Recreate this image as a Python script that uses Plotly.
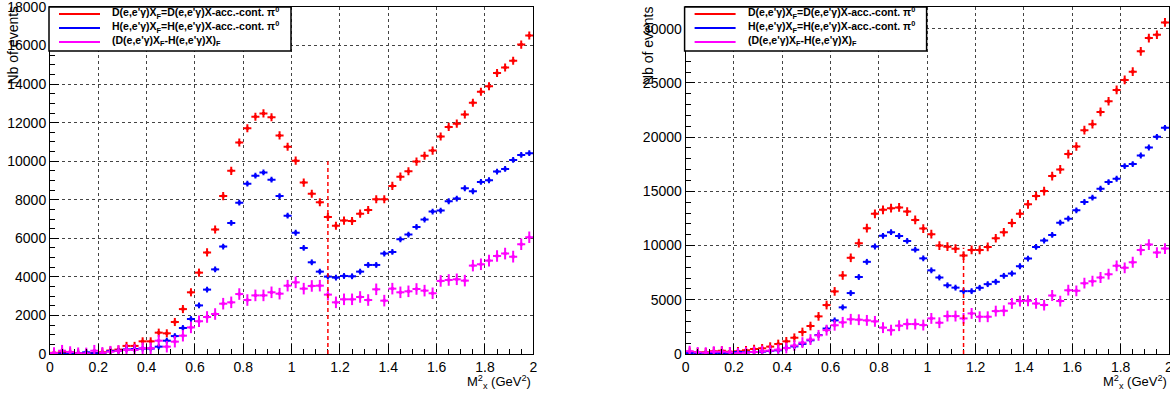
import numpy as np
import plotly.graph_objects as go

# ---------------- data ----------------
bin_edges = np.linspace(0.0, 2.0, 61)          # M_x^2 bins (GeV^2)
bin_centers = 0.5 * (bin_edges[:-1] + bin_edges[1:])
half_width = 0.5 * (bin_edges[1] - bin_edges[0])

left_D = [60, 100, 90, 40, 30, 50, 90, 180, 230, 420,
          420, 657, 657, 1107, 1072, 1660, 2330, 3200, 4220, 5270,
          6460, 8190, 9500, 10970, 11710, 12310, 12480, 12280, 11340, 10750,
          10030, 8890, 8310, 7870, 7110, 6650, 6920, 6900, 7280, 7470,
          8030, 8030, 8720, 9200, 9480, 9980, 10280, 10550, 11280, 11780,
          11950, 12420, 13030, 13600, 13890, 14580, 14860, 15210, 16050, 16520]
left_H = [10, 20, 30, 30, 90, 40, 30, 150, 170, 240,
          260, 280, 280, 380, 690, 930, 1350, 1815, 2520, 3340,
          4390, 5570, 6800, 7850, 8835, 9250, 9420, 9040, 8195, 7175,
          6290, 5500, 4757, 4273, 4014, 3962, 4048, 4031, 4273, 4619,
          4619, 5207, 5294, 5951, 6193, 6591, 6972, 7387, 7439, 7923,
          8062, 8598, 8442, 8926, 9013, 9463, 9601, 10069, 10328, 10415]
left_diff = [50, 170, 100, 40, 30, 170, 60, 120, 160, 210,
             210, 300, 300, 690, 380, 640, 950, 1380, 1700, 1920,
             2075, 2610, 2680, 3110, 2800, 3040, 3040, 3200, 3130, 3545,
             3717, 3390, 3530, 3545, 3080, 2680, 2837, 2837, 2958, 2800,
             3356, 2768, 3390, 3200, 3252, 3373, 3287, 3150, 3790, 3840,
             3875, 3806, 4585, 4654, 4844, 5086, 5207, 5050, 5692, 6055]

right_D = [200, 150, 150, 250, 310, 215, 250, 340, 460, 525,
           680, 925, 1170, 1500, 2030, 2580, 3470, 4513, 5772, 7245,
           8872, 10223, 11605, 12925, 13293, 13447, 13520, 13130, 12365, 11570,
           11050, 10000, 9900, 9710, 9078, 9600, 9600, 9876, 10673, 11225,
           12084, 12943, 13802, 14568, 15028, 16408, 17022, 18433, 19138, 20641,
           21193, 22328, 23309, 24352, 25272, 26039, 27910, 29137, 29443, 30580]
right_H = [90, 90, 60, 90, 90, 90, 185, 150, 185, 215,
           280, 340, 553, 700, 930, 1260, 1750, 2350, 3100, 4300,
           5620, 7100, 8500, 9916, 10898, 11236, 10880, 10430, 9620, 8820,
           7715, 7055, 6335, 6120, 5797, 5797, 6103, 6441, 6655, 7207,
           7422, 8097, 8802, 9876, 10458, 10980, 12115, 12483, 13249, 14016,
           14415, 15243, 15856, 16163, 17328, 17512, 18310, 19046, 20027, 20855]
right_diff = [250, 150, 120, 215, 215, 150, 60, 120, 185, 250,
              310, 400, 550, 780, 1050, 1330, 1720, 2200, 2650, 2920,
              3200, 3160, 3100, 3010, 2430, 2200, 2610, 2760, 2760, 2668,
              3282, 2883, 3496, 3496, 3282, 3742, 3435, 3435, 3956, 3987,
              4662, 4877, 4907, 4662, 4508, 5398, 4877, 5889, 5827, 6532,
              6716, 7054, 7361, 8127, 7944, 8465, 9600, 10090, 9354, 9722]

legend_labels = [
    "D(e,e'γ)X<sub>F</sub>=D(e,e'γ)X-acc.-cont. π<sup>0</sup>",
    "H(e,e'γ)X<sub>F</sub>=H(e,e'γ)X-acc.-cont. π<sup>0</sup>",
    "(D(e,e'γ)X<sub>F</sub>-H(e,e'γ)X)<sub>F</sub>",
]
colors = ["#ff0000", "#0000ff", "#ff00ff"]
cut_value = 1.15
cut_top = [10000, 9800]
y_ranges = [18000, 32000]
y_dticks = [2000, 5000]
y_minor = [500, 1000]
errs = [[210, 150, 300], [400, 270, 500]]

# ---------------- geometry ----------------
W, H = 1170, 394
def px(x):
    return x / W
def py(y):
    return 1 - y / H

panels = [
    dict(x0=50, x1=533.3, series=[left_D, left_H, left_diff]),
    dict(x0=685.6, x1=1169.0, series=[right_D, right_H, right_diff]),
]
top, bottom = 7, 354
FONT = "Liberation Sans, Arial, Helvetica, sans-serif"

fig = go.Figure()
layout = dict(
    width=W, height=H, margin=dict(l=0, r=0, t=0, b=0, autoexpand=False),
    paper_bgcolor="white", plot_bgcolor="white", showlegend=False,
    font=dict(family=FONT, color="black", size=14),
    shapes=[], annotations=[],
)

for k, p in enumerate(panels):
    xa = "xaxis" if k == 0 else "xaxis2"
    ya = "yaxis" if k == 0 else "yaxis2"
    xr = "x" if k == 0 else "x2"
    yr = "y" if k == 0 else "y2"
    for s, (vals, col) in enumerate(zip(p["series"], colors)):
        fig.add_trace(go.Scatter(
            x=bin_centers, y=vals, mode="markers", xaxis=xr, yaxis=yr,
            marker=dict(symbol="square", size=3, color=col),
            error_x=dict(type="constant", value=half_width, color=col, thickness=2, width=0),
            error_y=dict(type="constant", value=errs[k][s], color=col, thickness=2, width=0),
            name=legend_labels[s],
        ))
    layout[xa] = dict(
        domain=[px(p["x0"]), px(p["x1"])], range=[0, 2], anchor=yr,
        tick0=0, dtick=0.2, ticks="inside", ticklen=10, tickcolor="black",
        minor=dict(dtick=0.05, ticks="inside", ticklen=5, tickcolor="black", showgrid=False),
        showgrid=True, gridcolor="#444", griddash="dot", gridwidth=1,
        showline=True, linecolor="black", linewidth=1, mirror=True,
        zeroline=False, automargin=False, ticklabeloverflow="allow",
        tickfont=dict(size=14, family=FONT),
    )
    layout[ya] = dict(
        domain=[py(bottom), py(top)], range=[0, y_ranges[k]], anchor=xr,
        tick0=0, dtick=y_dticks[k], ticks="inside", ticklen=9, tickcolor="black",
        minor=dict(dtick=y_minor[k], ticks="inside", ticklen=5, tickcolor="black", showgrid=False),
        showgrid=True, gridcolor="#444", griddash="dot", gridwidth=1,
        showline=True, linecolor="black", linewidth=1, mirror=True,
        zeroline=False, automargin=False, tickformat="d", ticklabeloverflow="allow",
        tickfont=dict(size=14, family=FONT),
    )
    # cut line
    layout["shapes"].append(dict(
        type="line", xref=xr, yref=yr, x0=cut_value, x1=cut_value, y0=0, y1=cut_top[k],
        line=dict(color="#ff0000", width=1.5, dash="4px,3px"), layer="above"))
    # legend box
    off = p["x0"] - 50
    layout["shapes"].append(dict(
        type="rect", xref="paper", yref="paper",
        x0=px(49 + off), x1=px(291 + off), y0=py(51), y1=py(7),
        line=dict(color="black", width=1.5), fillcolor="white", layer="above"))
    for r, (lab, col) in enumerate(zip(legend_labels, colors)):
        yy = 14 + 14 * r
        layout["shapes"].append(dict(
            type="line", xref="paper", yref="paper",
            x0=px(59 + off), x1=px(100 + off), y0=py(yy), y1=py(yy),
            line=dict(color=col, width=2), layer="above"))
        layout["annotations"].append(dict(
            xref="paper", yref="paper", x=px(110 + off), y=py(yy - 1),
            xanchor="left", yanchor="middle", showarrow=False, text=lab,
            font=dict(family=FONT, size=10.5, color="black", weight="bold")))
    # axis titles
    layout["annotations"].append(dict(
        xref="paper", yref="paper", x=px(p["x0"] - 38), y=py(4),
        xanchor="center", yanchor="top", textangle=-90, showarrow=False,
        text="Nb of events", font=dict(family=FONT, size=14, color="black")))
    layout["annotations"].append(dict(
        xref="paper", yref="paper", x=px(p["x1"]), y=py(382),
        xanchor="right", yanchor="middle", showarrow=False,
        text="M<sup>2</sup><sub>x</sub> (GeV<sup>2</sup>)",
        font=dict(family=FONT, size=13, color="black")))

fig.update_layout(**layout)
fig.write_html("out.html", config={"displayModeBar": False},
               post_script="document.body.style.margin='0';")
